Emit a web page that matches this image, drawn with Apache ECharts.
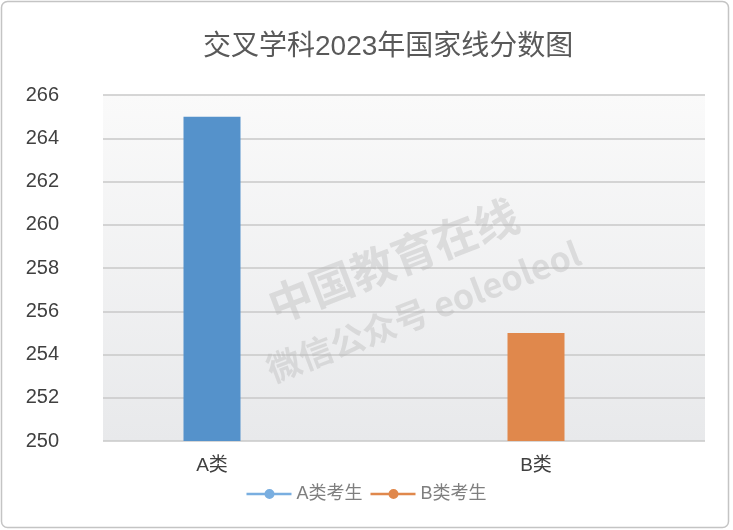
<!DOCTYPE html>
<html>
<head>
<meta charset="utf-8">
<script src="https://cdn.jsdelivr.net/npm/echarts@6/dist/echarts.min.js"></script>
<style>
  html, body { margin: 0; padding: 0; background: #fff; }
  #myChart { width: 733px; height: 530px; }
</style>
</head>
<body>
<div id="myChart"></div>
<script>
  // data
  var categories = ['A类', 'B类'];
  var seriesNames = ['A类考生', 'B类考生'];
  var scoreA = [265, '-'];
  var scoreB = ['-', 255];
  var yMin = 250, yMax = 266, yStep = 2;

  var fontCn = "'Liberation Sans', 'Noto Sans CJK SC', sans-serif";
  var legendIcon = 'path://M0,4.7h45v2.6h-45z M23,1a5,5 0 1,1 0,10a5,5 0 1,1 0,-10z';

  var myChart = echarts.init(document.getElementById('myChart'));

  myChart.setOption({
    animation: false,
    backgroundColor: '#fff',
    title: {
      text: '交叉学科2023年国家线分数图',
      left: 198,
      top: 28,
      textStyle: { fontFamily: fontCn, fontSize: 28, fontWeight: 'normal', color: '#595959' }
    },
    legend: {
      left: 'center',
      top: 480,
      itemWidth: 45,
      itemHeight: 12,
      itemGap: 8,
      textStyle: { fontFamily: fontCn, fontSize: 18, color: '#7f7f7f' },
      data: [
        { name: seriesNames[0], icon: legendIcon, itemStyle: { color: '#79aee0' } },
        { name: seriesNames[1], icon: legendIcon, itemStyle: { color: '#e0884c' } }
      ]
    },
    graphic: [
      {
        type: 'rect', silent: true, z: -1,
        shape: { x: 1.5, y: 1.5, width: 727, height: 526, r: 6 },
        style: { fill: 'none', stroke: '#c4c4c4', lineWidth: 1.5 }
      },
      {
        type: 'text', silent: true, z: 1,
        x: 262, y: 287, rotation: 21 * Math.PI / 180,
        style: { text: '中国教育在线', font: 'bold 44px "Noto Sans CJK SC"', fill: 'rgba(185,185,185,0.4)' }
      },
      {
        type: 'text', silent: true, z: 1,
        x: 262, y: 355, rotation: 21 * Math.PI / 180,
        style: { text: '微信公众号 eoleoleol', font: 'bold 34px "Noto Sans CJK SC"', fill: 'rgba(185,185,185,0.4)' }
      }
    ],
    grid: [
      {
        left: 103, right: 28, top: 95, bottom: 89,
        show: true, borderWidth: 0,
        backgroundColor: new echarts.graphic.LinearGradient(0, 0, 0, 1, [
          { offset: 0, color: '#fafafa' },
          { offset: 1, color: '#e8e9eb' }
        ])
      },
      { left: 50, right: 35, top: 95, bottom: 89 }
    ],
    xAxis: [
      {
        gridIndex: 0, type: 'category', data: categories,
        axisLine: { show: false }, axisTick: { show: false }, axisLabel: { show: false }
      },
      {
        gridIndex: 1, type: 'category', data: categories,
        axisLine: { show: false }, axisTick: { show: false },
        axisLabel: { margin: 15, fontFamily: fontCn, fontSize: 19, color: '#404040' }
      }
    ],
    yAxis: [
      {
        gridIndex: 0, type: 'value', min: yMin, max: yMax, interval: yStep,
        axisLine: { show: false }, axisTick: { show: false },
        axisLabel: { margin: 44, fontFamily: 'Liberation Sans', fontSize: 20, color: '#404040' },
        splitLine: { lineStyle: { color: '#c8c8c8', width: 1.5 } }
      },
      {
        gridIndex: 1, type: 'value', min: yMin, max: yMax, interval: yStep,
        show: false, splitLine: { show: false }
      }
    ],
    series: [
      {
        name: seriesNames[0], type: 'bar', xAxisIndex: 1, yAxisIndex: 1,
        barWidth: 57, barGap: '-100%',
        itemStyle: { color: '#5592cb' },
        data: scoreA
      },
      {
        name: seriesNames[1], type: 'bar', xAxisIndex: 1, yAxisIndex: 1,
        barWidth: 57, barGap: '-100%',
        itemStyle: { color: '#e0884c' },
        data: scoreB
      }
    ]
  });
</script>
</body>
</html>
